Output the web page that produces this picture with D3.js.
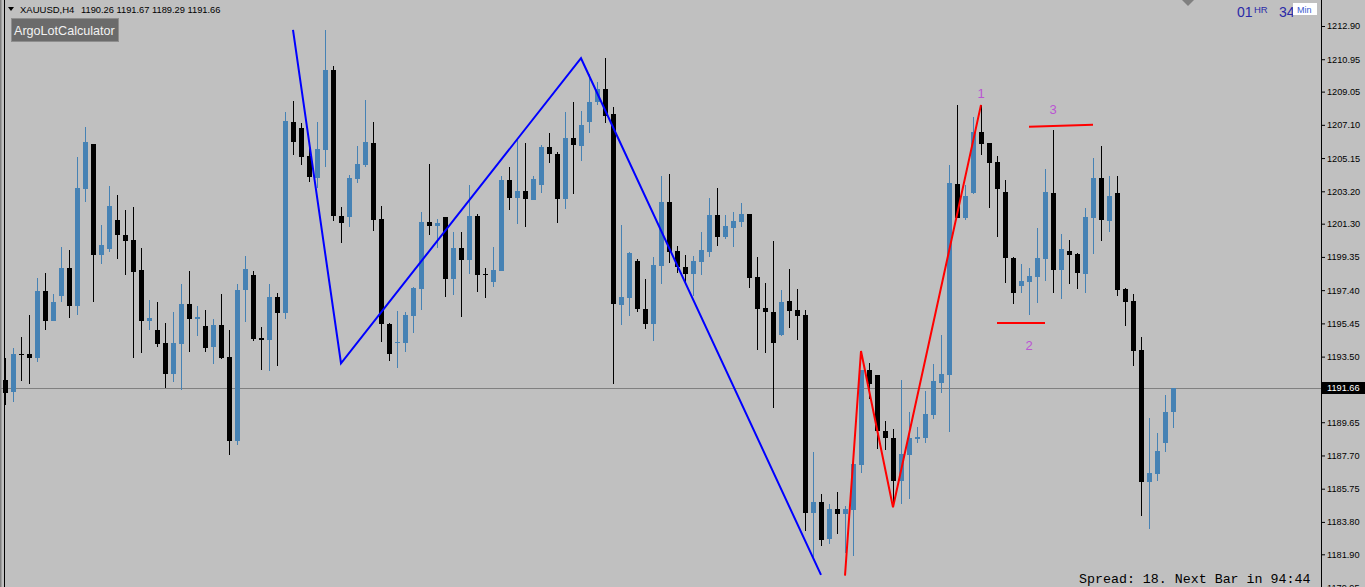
<!DOCTYPE html>
<html>
<head>
<meta charset="utf-8">
<script src="https://cdn.jsdelivr.net/npm/d3@7"></script>
<style>
	body { margin: 0; overflow: hidden; background: #c0c0c0; }
	svg { display: block; }
</style>
</head>
<body>
<div id="chart-wrap"></div>
<script>
//Chart data: XAUUSD H4 bars, oldest first
const opens = [1192.13, 1191.44, 1193.65, 1193.65, 1193.43, 1197.35, 1195.61, 1197.08, 1198.70, 1196.49,
	1203.36, 1205.98, 1199.48, 1199.84, 1201.52, 1200.64, 1200.35, 1198.59, 1195.61, 1195.06,
	1194.30, 1192.50, 1194.26, 1196.59, 1195.73, 1195.30, 1194.08, 1195.36, 1193.48, 1188.57,
	1197.43, 1198.29, 1194.59, 1194.50, 1197.00, 1196.08, 1207.27, 1206.90, 1205.28, 1204.00,
	1205.63, 1210.32, 1201.75, 1201.71, 1203.93, 1204.75, 1206.04, 1201.58, 1195.42, 1194.32,
	1194.32, 1195.90, 1197.49, 1201.40, 1201.19, 1201.68, 1198.04, 1199.86, 1199.17, 1201.75,
	1198.35, 1197.90, 1198.54, 1203.85, 1202.83, 1203.20, 1202.69, 1203.59, 1205.80, 1205.39,
	1202.75, 1206.33, 1205.88, 1207.29, 1208.46, 1209.19, 1207.72, 1196.53, 1196.94, 1199.11,
	1196.30, 1195.42, 1198.82, 1202.58, 1199.70, 1198.76, 1198.35, 1199.06, 1199.64, 1201.81,
	1200.52, 1201.05, 1201.40, 1201.87, 1198.17, 1196.36, 1196.12, 1194.77, 1196.77, 1196.24,
	1195.94, 1184.34, 1184.97, 1182.82, 1184.56, 1184.27, 1184.50, 1187.14, 1192.72, 1192.42,
	1189.15, 1188.74, 1186.20, 1187.73, 1188.67, 1188.74, 1190.08, 1191.97, 1192.42, 1203.63,
	1201.65, 1203.12, 1206.68, 1206.04, 1204.92, 1203.16, 1199.29, 1197.66, 1197.90, 1198.19,
	1199.25, 1203.10, 1198.60, 1199.70, 1199.52, 1198.37, 1201.65, 1203.98, 1201.48, 1203.10,
	1197.47, 1196.77, 1193.89, 1186.16, 1186.63, 1188.45, 1190.26];
const highs = [1193.40, 1193.99, 1194.63, 1195.94, 1198.09, 1198.41, 1197.17, 1199.94, 1199.76, 1205.22,
	1206.98, 1205.98, 1201.23, 1203.52, 1202.99, 1202.11, 1202.28, 1199.88, 1196.82, 1196.71,
	1195.48, 1196.12, 1197.76, 1198.53, 1196.47, 1196.24, 1195.71, 1197.17, 1195.06, 1197.76,
	1199.41, 1198.53, 1195.24, 1197.76, 1197.24, 1207.86, 1208.50, 1207.19, 1205.92, 1207.29,
	1212.67, 1210.56, 1202.30, 1204.16, 1205.86, 1208.56, 1207.27, 1202.34, 1195.46, 1196.20,
	1196.14, 1197.61, 1201.97, 1204.79, 1201.56, 1201.71, 1200.80, 1200.82, 1203.57, 1201.87,
	1198.69, 1199.92, 1204.10, 1204.61, 1206.21, 1206.02, 1204.10, 1205.90, 1206.61, 1205.53,
	1207.86, 1208.44, 1207.93, 1210.07, 1209.64, 1211.01, 1208.13, 1201.23, 1199.66, 1199.21,
	1198.06, 1199.35, 1204.10, 1204.22, 1199.99, 1199.47, 1199.41, 1200.82, 1202.81, 1203.40,
	1201.81, 1201.99, 1202.52, 1201.87, 1199.35, 1197.82, 1200.29, 1197.41, 1198.64, 1197.47,
	1196.24, 1187.92, 1185.44, 1184.85, 1185.56, 1184.74, 1187.54, 1192.72, 1193.13, 1192.42,
	1189.74, 1189.27, 1192.15, 1190.25, 1189.39, 1191.48, 1193.07, 1194.77, 1204.75, 1208.27,
	1203.57, 1207.58, 1208.27, 1206.04, 1205.28, 1203.87, 1199.37, 1198.94, 1198.69, 1201.05,
	1204.51, 1206.80, 1200.70, 1200.35, 1199.60, 1202.22, 1205.16, 1205.86, 1204.10, 1204.10,
	1197.53, 1197.17, 1194.65, 1189.92, 1189.02, 1191.25, 1191.67];
const lows = [1190.66, 1190.85, 1192.09, 1191.89, 1193.20, 1195.06, 1195.61, 1196.73, 1195.79, 1195.96,
	1202.59, 1196.73, 1198.96, 1199.66, 1199.25, 1198.31, 1193.43, 1193.73, 1195.06, 1194.08,
	1191.68, 1192.03, 1191.56, 1193.79, 1194.73, 1193.79, 1193.09, 1193.38, 1187.75, 1188.33,
	1195.55, 1194.44, 1192.73, 1192.68, 1192.97, 1195.73, 1205.33, 1204.75, 1203.77, 1203.40,
	1204.65, 1201.46, 1200.19, 1201.13, 1203.71, 1204.65, 1200.89, 1194.38, 1193.26, 1192.82,
	1193.79, 1194.91, 1196.24, 1200.64, 1199.86, 1197.02, 1197.12, 1195.85, 1198.35, 1197.31,
	1196.92, 1197.61, 1198.54, 1202.11, 1201.27, 1201.13, 1202.69, 1203.09, 1204.85, 1201.33,
	1202.17, 1203.05, 1205.00, 1206.64, 1208.27, 1207.19, 1191.88, 1195.36, 1195.89, 1196.12,
	1195.12, 1194.42, 1197.76, 1199.00, 1198.41, 1197.82, 1197.06, 1198.29, 1199.35, 1199.99,
	1200.40, 1199.94, 1201.11, 1197.53, 1193.89, 1193.71, 1190.50, 1194.71, 1195.18, 1194.48,
	1183.29, 1181.74, 1182.41, 1182.49, 1183.08, 1181.98, 1181.80, 1186.69, 1191.00, 1188.08,
	1188.02, 1184.66, 1184.85, 1185.15, 1188.42, 1188.45, 1189.86, 1191.38, 1189.10, 1201.65,
	1201.52, 1203.06, 1205.33, 1202.22, 1200.54, 1197.84, 1196.59, 1197.25, 1195.94, 1196.67,
	1197.96, 1197.25, 1196.90, 1197.78, 1197.49, 1197.25, 1199.54, 1200.31, 1200.83, 1197.08,
	1195.32, 1192.97, 1184.17, 1183.40, 1186.22, 1187.92, 1189.29];
const closes = [1191.38, 1193.65, 1193.59, 1193.43, 1197.35, 1195.61, 1196.71, 1198.70, 1196.49, 1203.40,
	1206.10, 1199.48, 1200.05, 1202.34, 1200.66, 1200.31, 1198.49, 1195.61, 1195.77, 1194.26,
	1192.50, 1194.30, 1196.59, 1195.73, 1195.83, 1194.03, 1195.36, 1193.43, 1188.57, 1197.41,
	1198.64, 1194.55, 1194.50, 1197.00, 1196.08, 1207.33, 1206.11, 1205.23, 1204.06, 1205.67,
	1210.32, 1201.77, 1201.36, 1203.97, 1204.81, 1206.10, 1201.52, 1195.42, 1193.67, 1194.38,
	1195.94, 1197.55, 1201.40, 1201.19, 1201.34, 1198.04, 1199.86, 1199.15, 1201.75, 1198.29,
	1198.27, 1198.59, 1203.85, 1202.83, 1203.20, 1202.77, 1203.93, 1205.80, 1205.39, 1202.75,
	1206.33, 1205.94, 1207.09, 1208.44, 1209.19, 1207.64, 1196.56, 1197.00, 1199.58, 1196.30,
	1195.42, 1198.88, 1202.58, 1199.64, 1198.76, 1198.35, 1199.11, 1199.76, 1201.81, 1200.52,
	1201.17, 1201.46, 1201.87, 1198.12, 1196.30, 1196.12, 1194.30, 1196.71, 1196.18, 1195.89,
	1184.34, 1184.97, 1182.76, 1184.56, 1184.25, 1184.56, 1187.22, 1192.72, 1191.89, 1189.15,
	1188.74, 1186.20, 1187.81, 1188.74, 1188.80, 1190.15, 1192.07, 1192.48, 1203.69, 1201.65,
	1202.93, 1206.68, 1205.98, 1204.86, 1203.36, 1199.31, 1197.25, 1197.94, 1198.23, 1199.29,
	1203.16, 1198.60, 1199.82, 1199.48, 1198.43, 1201.70, 1203.98, 1201.52, 1202.93, 1197.43,
	1196.73, 1193.85, 1186.16, 1186.67, 1187.96, 1190.25, 1191.66];

//ZigZag turning points (bar index, price)
const blueZigBars = [36, 42, 72, 102];
const blueZigPrices = [1212.67, 1193.11, 1211.01, 1180.69];
const redZigBars = [105, 107, 111, 122];
const redZigPrices = [1180.65, 1193.83, 1184.66, 1208.27];

//Pattern points and levels
const pointLabels = ["1", "2", "3"];
const pointBars = [122, 128, 131];
const pointPrices = [1208.95, 1194.13, 1208.03];
const levelStartBars = [124, 128];
const levelEndBars = [130, 136];
const levelStartPrices = [1195.47, 1206.99];
const levelEndPrices = [1195.47, 1207.11];

//Price axis labels
const tickLabels = [1212.90, 1210.95, 1209.05, 1207.10, 1205.15, 1203.20, 1201.30, 1199.35, 1197.40,
	1195.45, 1193.50, 1189.65, 1187.70, 1185.75, 1183.80, 1181.90, 1179.95];
const lastPrice = 1191.66;
const symbolTitle = "XAUUSD,H4";
const timerHours = "01";
const timerMins = "34";
const footerText = "Spread: 18. Next Bar in 94:44";

//Constants
const width = 1365;
const height = 587;
const axisX = 1321;
const barCount = closes.length;

let xScale = d3.scaleLinear().domain([0, barCount - 1]).range([5, 5 + 8 * (barCount - 1)]);
let yScale = d3.scaleLinear().domain([1212.90, 1181.90]).range([26, 554.3]);

let svg = d3.select('#chart-wrap')
	.append("svg")
	.attr("width", width)
	.attr("height", height)
	.style("font-family", "'Liberation Sans', Arial, sans-serif");

svg.append("rect")
	.attr("width", width)
	.attr("height", height)
	.attr("fill", "#c0c0c0");

//left frame lines
svg.append("line").attr("x1", 0.5).attr("x2", 0.5).attr("y1", 0).attr("y2", height)
	.attr("stroke", "#808080").attr("stroke-width", 2);
svg.append("line").attr("x1", 4.5).attr("x2", 4.5).attr("y1", 0).attr("y2", height)
	.attr("stroke", "#000");

//current price line
svg.append("line")
	.attr("x1", 0).attr("x2", axisX)
	.attr("y1", Math.round(yScale(lastPrice)) + 0.5)
	.attr("y2", Math.round(yScale(lastPrice)) + 0.5)
	.attr("stroke", "#808080");

//candles
let bars = d3.range(barCount).map(function(i) {
	return {i: i, o: opens[i], h: highs[i], l: lows[i], c: closes[i]};
});

let candle = svg.append("g").selectAll("g")
	.data(bars)
	.enter()
	.append("g")
	.attr("fill", function(d) { return d.c > d.o ? "#4682b4" : "#000"; })
	.attr("stroke", function(d) { return d.c > d.o ? "#4682b4" : "#000"; });

candle.append("line")
	.attr("x1", function(d) { return Math.round(xScale(d.i)) + 0.5; })
	.attr("x2", function(d) { return Math.round(xScale(d.i)) + 0.5; })
	.attr("y1", function(d) { return Math.round(yScale(d.h)); })
	.attr("y2", function(d) { return Math.round(yScale(d.l)); });

candle.append("rect")
	.attr("stroke", "none")
	.attr("x", function(d) { return Math.round(xScale(d.i)) - 2; })
	.attr("width", 5)
	.attr("y", function(d) { return Math.round(yScale(Math.max(d.o, d.c))); })
	.attr("height", function(d) {
		return Math.max(1, Math.round(yScale(Math.min(d.o, d.c))) - Math.round(yScale(Math.max(d.o, d.c))));
	});

//zigzags
let zigLine = d3.line()
	.x(function(d) { return xScale(d[0]); })
	.y(function(d) { return yScale(d[1]); });

svg.append("path")
	.attr("d", zigLine(d3.zip(blueZigBars, blueZigPrices)))
	.attr("fill", "none")
	.attr("stroke", "#0000ff")
	.attr("stroke-width", 2);

svg.append("path")
	.attr("d", zigLine(d3.zip(redZigBars, redZigPrices)))
	.attr("fill", "none")
	.attr("stroke", "#ff0000")
	.attr("stroke-width", 2);

svg.append("g").selectAll("line")
	.data(d3.range(levelStartBars.length))
	.enter()
	.append("line")
	.attr("x1", function(k) { return xScale(levelStartBars[k]); })
	.attr("x2", function(k) { return xScale(levelEndBars[k]); })
	.attr("y1", function(k) { return yScale(levelStartPrices[k]); })
	.attr("y2", function(k) { return yScale(levelEndPrices[k]); })
	.attr("stroke", "#ff0000")
	.attr("stroke-width", 2);

svg.append("g").selectAll("text")
	.data(pointLabels)
	.enter()
	.append("text")
	.attr("x", function(d, k) { return xScale(pointBars[k]); })
	.attr("y", function(d, k) { return yScale(pointPrices[k]); })
	.attr("dy", "0.35em")
	.attr("text-anchor", "middle")
	.attr("font-size", 13)
	.attr("fill", "#ba55d3")
	.text(function(d) { return d; });

//price axis
svg.append("rect")
	.attr("x", axisX).attr("y", 0)
	.attr("width", width - axisX).attr("height", height)
	.attr("fill", "#c0c0c0");

let yAxis = d3.axisRight(yScale)
	.tickValues(tickLabels)
	.tickSize(4)
	.tickPadding(2)
	.tickFormat(d3.format(".2f"));

let axisG = svg.append("g")
	.attr("transform", "translate(" + axisX + ",0)")
	.call(yAxis);
axisG.select(".domain").remove();
axisG.selectAll("line").attr("stroke", "#000");
axisG.selectAll("text")
	.attr("fill", "#000")
	.attr("font-size", 9.2)
	.attr("font-family", "'Liberation Sans', Arial, sans-serif");

svg.append("line")
	.attr("x1", axisX + 0.5).attr("x2", axisX + 0.5)
	.attr("y1", 0).attr("y2", height)
	.attr("stroke", "#000");

//last price tag
let lastY = Math.round(yScale(lastPrice));
svg.append("rect")
	.attr("x", axisX + 1).attr("y", lastY - 6)
	.attr("width", width - axisX - 1).attr("height", 12)
	.attr("fill", "#000");
svg.append("text")
	.attr("x", axisX + 6).attr("y", lastY)
	.attr("dy", "0.35em")
	.attr("font-size", 9.2)
	.attr("fill", "#fff")
	.text(d3.format(".2f")(lastPrice));

//header
svg.append("path")
	.attr("d", "M8,7 L14,7 L11,11 Z")
	.attr("fill", "#000");
svg.append("text")
	.attr("x", 20).attr("y", 13)
	.attr("font-size", 9.5)
	.attr("fill", "#000")
	.text(symbolTitle);
svg.append("text")
	.attr("x", 81).attr("y", 13)
	.attr("font-size", 9.3)
	.attr("fill", "#000")
	.text([opens[barCount - 1], highs[barCount - 1], lows[barCount - 1], closes[barCount - 1]]
		.map(d3.format(".2f")).join(" "));

//ArgoLotCalculator button
svg.append("rect")
	.attr("x", 11.5).attr("y", 18.5)
	.attr("width", 107).attr("height", 23)
	.attr("fill", "#6b6b6b")
	.attr("stroke", "#8e8e8e");
svg.append("text")
	.attr("x", 14).attr("y", 35)
	.attr("font-size", 12.6)
	.attr("fill", "#f2f2f2")
	.text("ArgoLotCalculator");

//chart shift marker
svg.append("path")
	.attr("d", "M1182,0 L1194,0 L1188,6 Z")
	.attr("fill", "#808080");

//bar timer
svg.append("text").attr("x", 1237).attr("y", 17).attr("font-size", 14)
	.attr("fill", "#2a2aa8").text(timerHours);
svg.append("text").attr("x", 1254).attr("y", 13).attr("font-size", 9.5)
	.attr("fill", "#2a2aa8").text("HR");
svg.append("text").attr("x", 1279).attr("y", 17).attr("font-size", 14)
	.attr("fill", "#2a2aa8").text(timerMins);
svg.append("rect").attr("x", 1293).attr("y", 3).attr("width", 24).attr("height", 12)
	.attr("fill", "#fff");
svg.append("text").attr("x", 1297).attr("y", 13).attr("font-size", 9)
	.attr("fill", "#3a5ad0").text("Min");

//spread footer
svg.append("text")
	.attr("x", 1079).attr("y", 583)
	.attr("font-family", "'Liberation Mono', 'Courier New', monospace")
	.attr("font-size", 13.3)
	.attr("fill", "#000")
	.text(footerText);
</script>
</body>
</html>
